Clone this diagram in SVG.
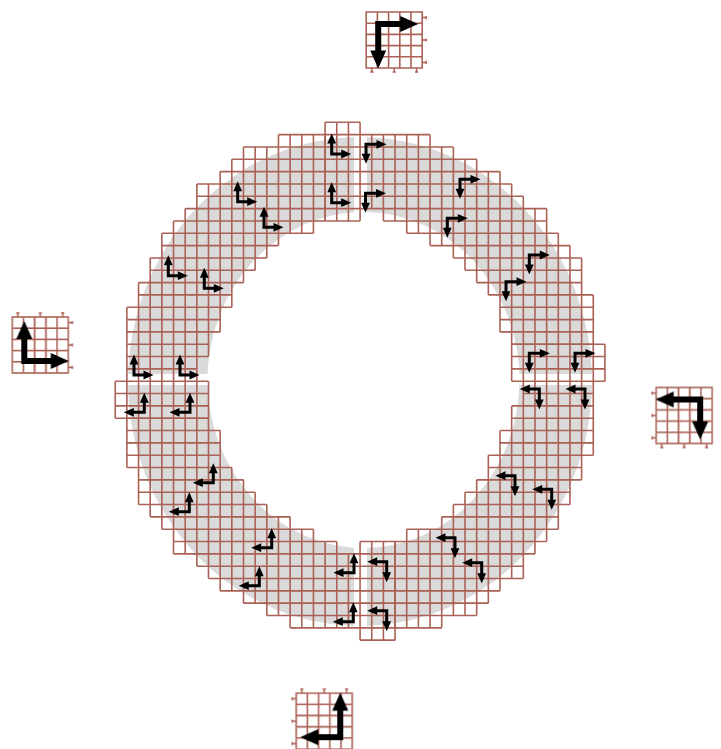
<svg xmlns="http://www.w3.org/2000/svg" xmlns:xlink="http://www.w3.org/1999/xlink" width="721" height="749" viewBox="0 0 721 749">
<style>
.grid{fill:none;stroke:#aa6256;stroke-width:1.6;vector-effect:non-scaling-stroke}
.shaft{fill:none;stroke:#000;stroke-width:3;stroke-linejoin:miter}
.head{fill:#000}
.tick{fill:none;stroke:#aa6256;stroke-width:1.5}
.tshaft{fill:none;stroke:#000;stroke-width:6;stroke-linejoin:miter}
.ring{fill:#dadada;fill-rule:evenodd}
</style>
<defs>
<filter id="soft" x="0" y="0" width="721" height="749" filterUnits="userSpaceOnUse"><feGaussianBlur stdDeviation="0.6"/></filter>
<clipPath id="sectors">
<rect x="0" y="0" width="354" height="374"/><rect x="367" y="0" width="354" height="374"/>
<rect x="0" y="385" width="354" height="364"/><rect x="367" y="385" width="354" height="364"/>
</clipPath>
<path id="wedge" class="grid" d="M0 0H3M0 1H9M0 2H11M0 3H13M0 4H15M0 5H16M0 6H17M0 7H19M0 8H3M5 8H19M7 9H20M9 10H21M11 11H22M12 12H22M13 13H22M14 14H23M15 15H23M15 16H23M15 17H23M16 18H23M0 0V8M1 0V8M2 0V8M3 0V8M4 1V7M5 1V8M6 1V8M7 1V9M8 1V9M9 1V10M10 2V10M11 2V11M12 3V12M13 3V13M14 4V14M15 4V17M16 5V18M17 6V18M18 7V18M19 7V18M20 9V18M21 10V18M22 11V18M23 14V18"/>
<g id="a">
<path class="shaft" d="M0 -13V0H12"/>
<path class="head" d="M0 -20.5L-4.4 -10.5H4.4ZM19.5 0L9.5 -4.4V4.4Z"/>
</g>
<g id="tile">
<path class="grid" d="M-28 -28H28V28H-28ZM-28 -16.8H28M-28 -5.6H28M-28 5.6H28M-28 16.8H28M-16.8 -28V28M-5.6 -28V28M5.6 -28V28M16.8 -28V28"/>
<path class="tick" d="M28 -22.4H32M32 -24V-20.8M28 0H32M32 -1.6V1.6M28 22.4H32M32 20.8V24M-22.4 28V32M-24 32H-20.8M0 28V32M-1.6 32H1.6M22.4 28V32M20.8 32H24"/>
<path class="tshaft" d="M-16 18V-16H8"/>
<path class="head" d="M-16 28.5L-24 10.5H-8ZM24 -16L6 -24V-8Z"/>
</g>
</defs>
<g filter="url(#soft)">
<path id="disc" class="ring" clip-path="url(#sectors)" d="M128 381.5A232 244.5 0 1 1 592 381.5A232 244.5 0 1 1 128 381.5ZM207.5 380A156 168 0 1 0 519.5 380A156 168 0 1 0 207.5 380Z"/>
<g id="ring-grid" transform="translate(325.1 122.3) scale(11.66 12.33)">
<use xlink:href="#wedge" href="#wedge"/>
<use xlink:href="#wedge" href="#wedge" transform="rotate(90 3 21)"/>
<use xlink:href="#wedge" href="#wedge" transform="rotate(180 3 21)"/>
<use xlink:href="#wedge" href="#wedge" transform="rotate(270 3 21)"/>
</g>
<g id="connectors">
<use href="#a" transform="translate(331.7 154)"/>
<use href="#a" transform="translate(331.7 202.7)"/>
<use href="#a" transform="translate(134 375)"/>
<use href="#a" transform="translate(180 375)"/>
<use href="#a" transform="translate(168.3 275.7)"/>
<use href="#a" transform="translate(204.3 288.3)"/>
<use href="#a" transform="translate(237.7 201.7)"/>
<use href="#a" transform="translate(264 227.3)"/>
<use href="#a" transform="translate(366 144.3) rotate(90)"/>
<use href="#a" transform="translate(365.5 193.3) rotate(90)"/>
<use href="#a" transform="translate(460 179.3) rotate(90)"/>
<use href="#a" transform="translate(447.3 218.3) rotate(90)"/>
<use href="#a" transform="translate(529.3 255) rotate(90)"/>
<use href="#a" transform="translate(506 281.7) rotate(90)"/>
<use href="#a" transform="translate(529.3 353.3) rotate(90)"/>
<use href="#a" transform="translate(575 353.3) rotate(90)"/>
<use href="#a" transform="translate(539.3 389) rotate(180)"/>
<use href="#a" transform="translate(585 389) rotate(180)"/>
<use href="#a" transform="translate(515 475.7) rotate(180)"/>
<use href="#a" transform="translate(551.7 489.3) rotate(180)"/>
<use href="#a" transform="translate(455 537.7) rotate(180)"/>
<use href="#a" transform="translate(481.7 562.7) rotate(180)"/>
<use href="#a" transform="translate(386.7 561.7) rotate(180)"/>
<use href="#a" transform="translate(386.7 610.7) rotate(180)"/>
<use href="#a" transform="translate(354 572.7) rotate(270)"/>
<use href="#a" transform="translate(353.3 621.7) rotate(270)"/>
<use href="#a" transform="translate(271.7 547.7) rotate(270)"/>
<use href="#a" transform="translate(259.3 585.7) rotate(270)"/>
<use href="#a" transform="translate(213.3 482.7) rotate(270)"/>
<use href="#a" transform="translate(189.3 511.7) rotate(270)"/>
<use href="#a" transform="translate(144.3 412.3) rotate(270)"/>
<use href="#a" transform="translate(190 412.3) rotate(270)"/>
</g>
<g id="tile-top" transform="translate(394.2 40)"><use href="#tile"/></g>
<g id="tile-right" transform="translate(684.2 415.5) rotate(90)"><use href="#tile"/></g>
<g id="tile-bottom" transform="translate(324.3 721.2) rotate(180)"><use href="#tile"/></g>
<g id="tile-left" transform="translate(40.3 345) rotate(270)"><use href="#tile"/></g>
</g>
</svg>
